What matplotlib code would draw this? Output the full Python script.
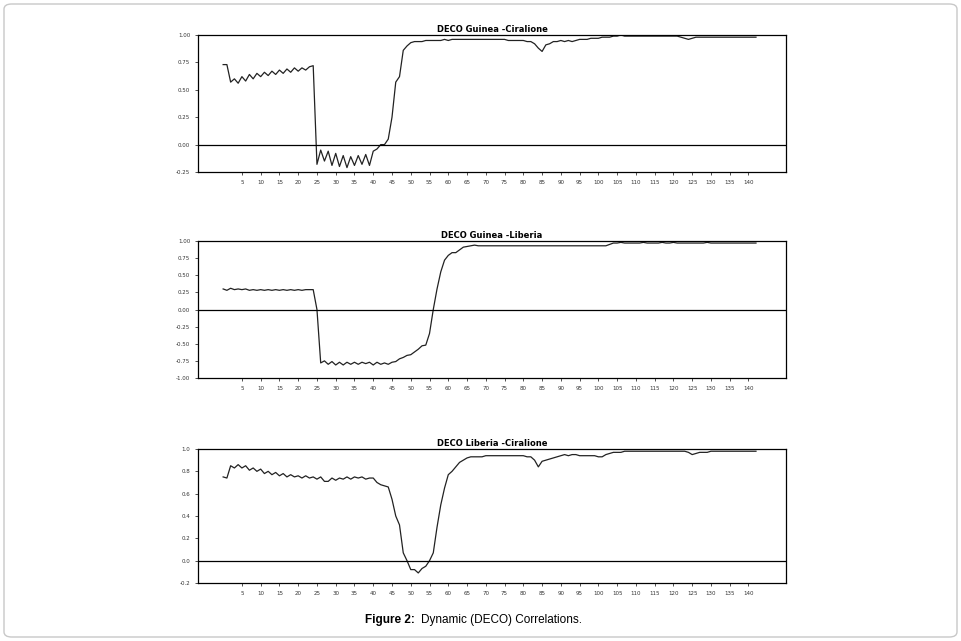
import matplotlib
matplotlib.use("Agg")
import matplotlib.pyplot as plt
from matplotlib.patches import FancyBboxPatch

periods = list(range(0, 143))
xtick_values = list(range(5, 145, 5))

guinea_ciralione = ([0.73, 0.73,
    0.57, 0.60, 0.56, 0.62, 0.58, 0.64, 0.60, 0.65, 0.62, 0.66, 0.63, 0.67, 0.64, 0.68, 0.65, 0.69, 0.66, 0.70, 0.67, 0.70, 0.68, 0.71, 0.72,
    -0.18, -0.05, -0.15, -0.06, -0.19, -0.08, -0.20, -0.10, -0.21, -0.11, -0.19, -0.10, -0.18, -0.09, -0.19, -0.06, -0.04, 0.00,
    0.00, 0.05, 0.25, 0.57, 0.62, 0.86, 0.90, 0.93, 0.94, 0.94,
    0.94, 0.95, 0.95, 0.95, 0.95, 0.95, 0.96, 0.95, 0.96, 0.96, 0.96, 0.96, 0.96, 0.96,
    0.96, 0.96, 0.96, 0.96, 0.96, 0.96, 0.96, 0.96, 0.96, 0.95, 0.95, 0.95, 0.95, 0.95,
    0.94, 0.94, 0.92, 0.88, 0.85, 0.91, 0.92, 0.94,
    0.94, 0.95, 0.94, 0.95, 0.94, 0.95, 0.96, 0.96, 0.96, 0.97, 0.97, 0.97,
    0.98, 0.98, 0.98, 0.99, 0.99, 1.00, 0.99, 0.99, 0.99, 0.99, 0.99, 0.99, 0.99, 0.99,
    0.99, 0.99, 0.99, 0.99, 0.99, 0.99, 0.99, 0.98, 0.97, 0.96, 0.97, 0.98, 0.98, 0.98,
    0.98, 0.98, 0.98, 0.98, 0.98, 0.98, 0.98, 0.98, 0.98, 0.98, 0.98, 0.98, 0.98, 0.98])

guinea_liberia = ([0.30, 0.28, 0.31, 0.29, 0.30, 0.29, 0.30, 0.28, 0.29, 0.28, 0.29, 0.28, 0.29,
    0.28, 0.29, 0.28, 0.29, 0.28, 0.29, 0.28, 0.29, 0.28, 0.29, 0.29, 0.29,
    0.00,
    -0.78, -0.75, -0.80, -0.76, -0.81, -0.77, -0.81, -0.77, -0.80, -0.77,
    -0.80, -0.77, -0.79, -0.77, -0.81, -0.77, -0.80, -0.78, -0.80, -0.77,
    -0.76, -0.72, -0.70, -0.67, -0.66, -0.62, -0.58, -0.53, -0.52, -0.35, 0.00,
    0.30, 0.55, 0.72, 0.79, 0.83, 0.83, 0.87, 0.91, 0.92, 0.93, 0.94, 0.93,
    0.93, 0.93, 0.93, 0.93, 0.93, 0.93, 0.93, 0.93, 0.93, 0.93, 0.93, 0.93, 0.93, 0.93, 0.93, 0.93, 0.93,
    0.93, 0.93, 0.93, 0.93, 0.93, 0.93, 0.93, 0.93, 0.93, 0.93, 0.93, 0.93, 0.93, 0.93, 0.93, 0.93, 0.93,
    0.95, 0.97, 0.97, 0.98, 0.97, 0.97, 0.97, 0.97, 0.97, 0.98, 0.97, 0.97, 0.97, 0.97, 0.98, 0.97, 0.97, 0.98, 0.97, 0.97,
    0.97, 0.97, 0.97, 0.97, 0.97, 0.97, 0.98, 0.97, 0.97, 0.97, 0.97, 0.97, 0.97, 0.97, 0.97, 0.97, 0.97, 0.97, 0.97, 0.97])

liberia_ciralione = ([0.75, 0.74, 0.85, 0.83, 0.86, 0.83, 0.85, 0.81, 0.83, 0.80, 0.82,
    0.78, 0.80, 0.77, 0.79, 0.76, 0.78, 0.75, 0.77, 0.75, 0.76, 0.74, 0.76, 0.74, 0.75, 0.73, 0.75, 0.71, 0.71,
    0.74, 0.72, 0.74, 0.73, 0.75, 0.73, 0.75, 0.74, 0.75, 0.73, 0.74, 0.74,
    0.70, 0.68, 0.67, 0.66, 0.55, 0.40, 0.32, 0.07, 0.00, -0.08, -0.08, -0.11, -0.07, -0.05, 0.00, 0.07, 0.30, 0.50, 0.65, 0.77,
    0.80, 0.84, 0.88, 0.90, 0.92, 0.93, 0.93, 0.93, 0.93, 0.94,
    0.94, 0.94, 0.94, 0.94, 0.94, 0.94, 0.94, 0.94, 0.94, 0.94,
    0.93, 0.93, 0.90, 0.84, 0.89, 0.90, 0.91, 0.92, 0.93, 0.94,
    0.95, 0.94, 0.95, 0.95, 0.94, 0.94, 0.94, 0.94, 0.94, 0.93, 0.93, 0.95,
    0.96, 0.97, 0.97, 0.97, 0.98, 0.98, 0.98, 0.98, 0.98, 0.98, 0.98, 0.98, 0.98, 0.98, 0.98, 0.98, 0.98, 0.98, 0.98, 0.98,
    0.98, 0.97, 0.95, 0.96, 0.97, 0.97, 0.97, 0.98, 0.98, 0.98, 0.98, 0.98, 0.98, 0.98, 0.98, 0.98, 0.98, 0.98, 0.98, 0.98])

panels = [
    ("DECO Guinea -Ciralione", guinea_ciralione, (-0.25, 1.0), [-0.25, 0.0, 0.25, 0.5, 0.75, 1.0], "{:.2f}"),
    ("DECO Guinea -Liberia", guinea_liberia, (-1.0, 1.0), [-1.0, -0.75, -0.5, -0.25, 0.0, 0.25, 0.5, 0.75, 1.0], "{:.2f}"),
    ("DECO Liberia -Ciralione", liberia_ciralione, (-0.2, 1.0), [-0.2, 0.0, 0.2, 0.4, 0.6, 0.8, 1.0], "{:.1f}"),
]
rects = [(198, 35, 786, 172), (198, 241, 786, 378), (198, 449, 786, 583)]

W, H = 961, 641
fig = plt.figure(figsize=(W / 100, H / 100), dpi=100)
fig.patches.append(FancyBboxPatch((4 / W, 4 / H), (W - 8) / W, (H - 8) / H,
                                  boxstyle="round,pad=0,rounding_size=0.008",
                                  transform=fig.transFigure, fill=False,
                                  edgecolor="#c8c8c8", linewidth=1))

for (title, vals, ylim, yt, fmt), (l, t, r, b) in zip(panels, rects):
    ax = fig.add_axes([l / W, 1 - b / H, (r - l) / W, (b - t) / H])
    ax.plot(periods[:len(vals)], vals, color="#222222", linewidth=0.9)
    ax.axhline(0, color="black", linewidth=0.9)
    ax.set_xlim(-6.7, 150)
    ax.set_ylim(*ylim)
    ax.set_yticks(yt)
    ax.set_yticklabels([fmt.format(v) for v in yt])
    ax.set_xticks(xtick_values)
    ax.set_xticklabels([str(v) for v in xtick_values])
    ax.tick_params(labelsize=4, length=2, width=0.6, colors="#333333")
    for s in ax.spines.values():
        s.set_linewidth(0.9)
    ax.set_title(title, fontsize=6, fontweight="bold", pad=2)

fig.text(365 / W, 1 - 620 / H, "Figure 2:", ha="left", va="center",
         fontsize=8.5, fontweight="bold", family="Liberation Sans")
fig.text(421 / W, 1 - 620 / H, "Dynamic (DECO) Correlations.", ha="left", va="center",
         fontsize=8.5, family="Liberation Sans")

fig.savefig("out.png", dpi=100)
